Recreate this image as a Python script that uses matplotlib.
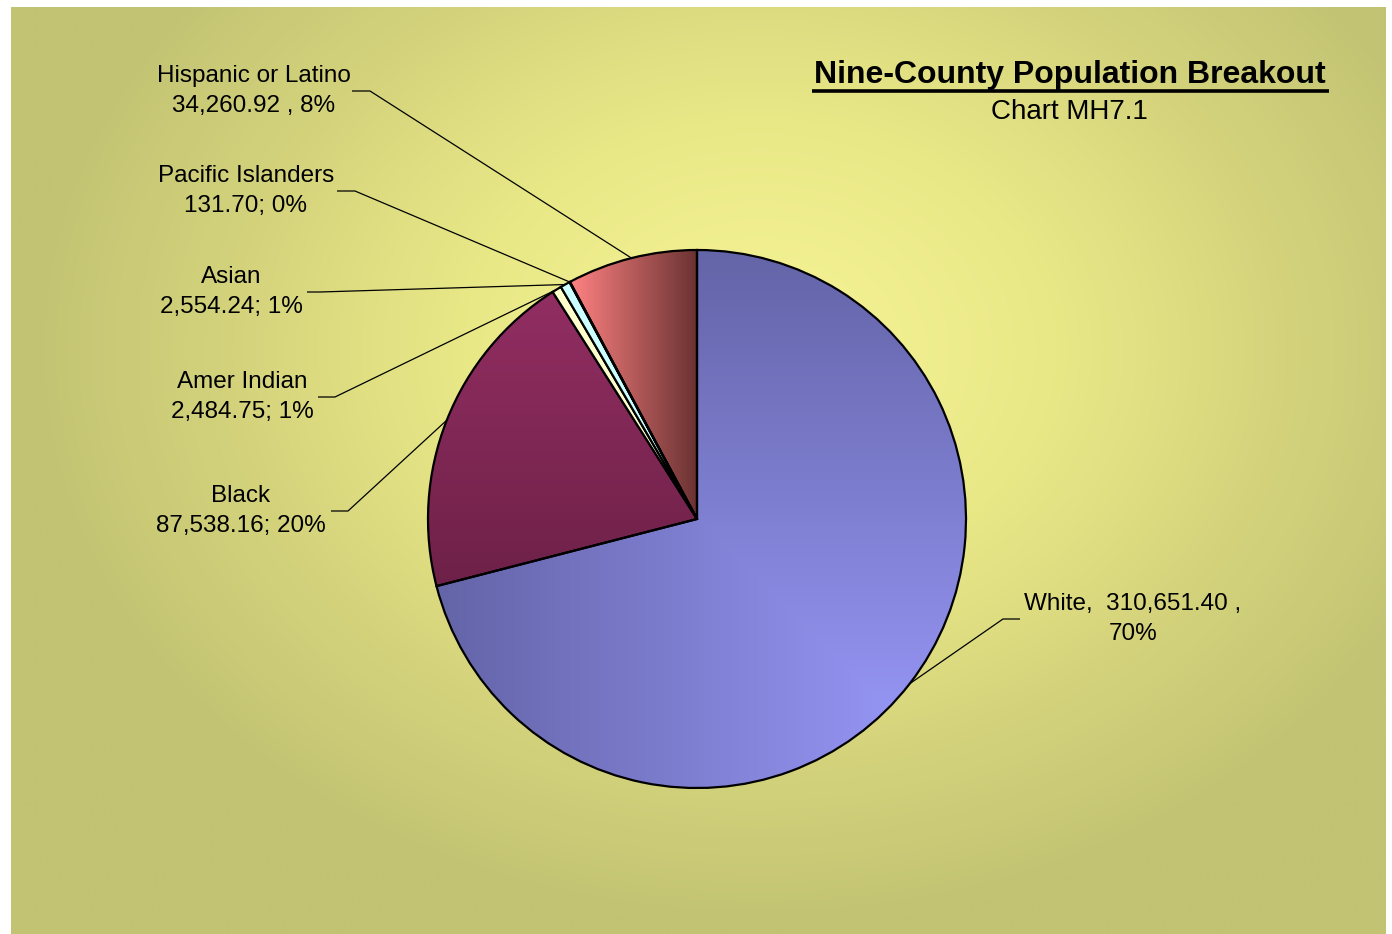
import numpy as np
import matplotlib.pyplot as plt
from matplotlib.colors import LinearSegmentedColormap

plt.rcParams['font.family'] = ['Liberation Sans', 'DejaVu Sans']

# population by group, in drawing order (clockwise from 12 o'clock)
groups = ['White', 'Black', 'Amer Indian', 'Asian', 'Pacific Islanders', 'Hispanic or Latino']
population = [310651.40, 87538.16, 2484.75, 2554.24, 131.70, 34260.92]
label_texts = [
    'White,  310,651.40 ,\n70%',
    'Black\n87,538.16; 20%',
    'Amer Indian\n2,484.75; 1%',
    'Asian\n2,554.24; 1%',
    'Pacific Islanders\n131.70; 0%',
    'Hispanic or Latino\n34,260.92 , 8%',
]
flat_colors = ['#7878c8', '#842a58', '#ffffcc', '#ccffff', '#99ccff', '#c05858']

W, H = 1392, 934
fig = plt.figure(figsize=(W / 100, H / 100), dpi=100)
fig.patch.set_facecolor('white')
ax = fig.add_axes([0, 0, 1, 1])

# radial background: bright yellow centre fading to olive edges
bx0, bx1, by0, by1 = 11, 1386, 0, 927
xs = np.linspace(bx0, bx1, 600)
ys = np.linspace(by0, by1, 420)
gx, gy = np.meshgrid(xs, ys)
d = np.sqrt(((gx - 760) / 740) ** 2 + ((gy - (H - 350)) / 580) ** 2)
d = np.clip(d, 0, 1) ** 1.2
bg_cmap = LinearSegmentedColormap.from_list('bg', ['#f5f394', '#e9e887', '#d4d37c', '#c2c373'])
ax.imshow(d, cmap=bg_cmap, extent=[bx0, bx1, by0, by1], origin='lower',
          aspect='auto', zorder=0, interpolation='bilinear')

cx, cy, R = 697, H - 519, 269
wedges, _ = ax.pie(population, colors=flat_colors, startangle=90, counterclock=False,
                   center=(cx, cy), radius=R,
                   wedgeprops=dict(edgecolor='black', linewidth=1.6))
for w in wedges:
    w.set_zorder(3)


def fill_with(wedge, arr, c0, c1, extent):
    cm = LinearSegmentedColormap.from_list('g', [c0, c1])
    im = ax.imshow(arr, cmap=cm, extent=extent, origin='lower', aspect='auto',
                   zorder=2, interpolation='bilinear', vmin=0, vmax=1)
    im.set_clip_path(wedge)
    wedge.set_facecolor('none')


def corner_gradient(wedge, c_corner, c_far):
    # gradient spreading out from the bottom-right corner of the wedge bbox
    bb = wedge.get_path().get_extents()
    x0, y0, x1, y1 = bb.x0, bb.y0, bb.x1, bb.y1
    gx, gy = np.meshgrid(np.linspace(x0, x1, 400), np.linspace(y0, y1, 400))
    t = np.maximum((x1 - gx) / (x1 - x0), (gy - y0) / (y1 - y0))
    fill_with(wedge, t, c_corner, c_far, [x0, x1, y0, y1])


def linear_gradient(wedge, c0, c1, axis):
    bb = wedge.get_path().get_extents()
    x0, y0, x1, y1 = bb.x0, bb.y0, bb.x1, bb.y1
    t = np.linspace(0, 1, 400)
    arr = t[None, :] if axis == 'x' else t[:, None]
    fill_with(wedge, arr, c0, c1, [x0, x1, y0, y1])


corner_gradient(wedges[0], '#9c9cff', '#6464a8')
linear_gradient(wedges[1], '#6e2148', '#922e62', 'y')
linear_gradient(wedges[5], '#ff8282', '#6a3232', 'x')

# labels with leader lines (elbow then to the middle of the slice edge)
label_pos = {
    0: (1133, 619, 1020, 1003),
    1: (241, 511, 331, 348),
    2: (242, 397, 318, 335),
    3: (231, 292, 307, 320),
    4: (246, 191, 337, 355),
    5: (254, 91, 352, 370),
}
for i, w in enumerate(wedges):
    tx, ty, lx0, lx1 = label_pos[i]
    ang = np.deg2rad((w.theta1 + w.theta2) / 2)
    ex, ey = cx + R * np.cos(ang), cy + R * np.sin(ang)
    ly = H - ty
    ax.plot([lx0, lx1, ex], [ly, ly, ey], color='black', lw=0.9, zorder=4,
            solid_capstyle='butt')
    ax.text(tx, H - ty, label_texts[i], ha='center', va='center', fontsize=17.5,
            linespacing=1.45, color='black', zorder=5)

# title block
ax.text(1070, H - 75, 'Nine-County Population Breakout', ha='center', va='center',
        fontsize=23, fontweight='bold', zorder=5)
ax.plot([812, 1329], [H - 91, H - 91], color='black', lw=2.6, zorder=5,
        solid_capstyle='butt')
ax.text(1069, H - 112, 'Chart MH7.1', ha='center', va='center', fontsize=20, zorder=5)

ax.set_xlim(0, W)
ax.set_ylim(0, H)
ax.set_aspect('auto')
ax.axis('off')

fig.savefig('out.png', dpi=100, facecolor='white')
